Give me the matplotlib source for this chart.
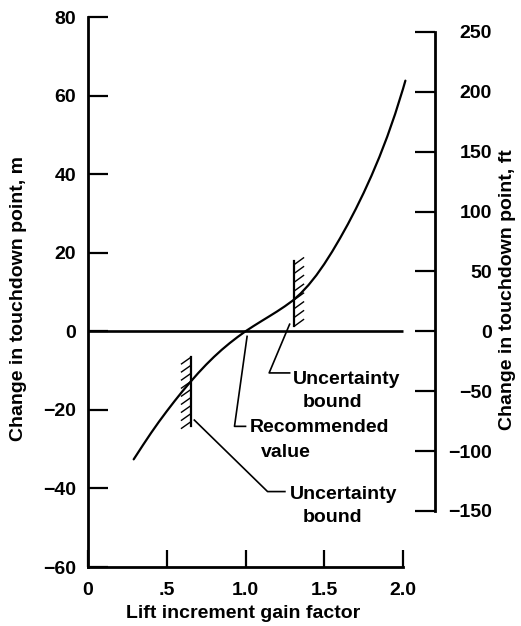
import numpy as np
import matplotlib
matplotlib.use("Agg")
import matplotlib.pyplot as plt
from matplotlib.collections import LineCollection

plt.rcParams['font.family'] = ['Liberation Sans', 'DejaVu Sans']
plt.rcParams['font.weight'] = 'bold'
plt.rcParams['font.size'] = 14

# ---- data ----
gain = [0.29, 0.35, 0.40, 0.45, 0.50, 0.55, 0.60, 0.65, 0.70, 0.75, 0.80, 0.85,
        0.90, 0.95, 1.00, 1.05, 1.10, 1.15, 1.20, 1.25, 1.30, 1.35, 1.40, 1.45,
        1.50, 1.55, 1.60, 1.65, 1.70, 1.75, 1.80, 1.85, 1.90, 1.95, 2.00, 2.015]
change_m = [-32.6, -28.9, -25.9, -23.05, -20.35, -17.75, -15.25, -12.9, -10.62, -8.49,
            -6.51, -4.68, -3.0, -1.45, 0.0, 1.31, 2.56, 3.79, 5.04, 6.37, 7.82, 9.62,
            11.77, 14.27, 17.12, 20.27, 23.67, 27.27, 31.12, 35.22, 39.62, 44.37,
            49.57, 55.32, 61.72, 63.8]

x_ticks = [0, 0.5, 1.0, 1.5, 2.0]
x_tick_labels = ["0", ".5", "1.0", "1.5", "2.0"]
m_ticks = [80, 60, 40, 20, 0, -20, -40, -60]
m_tick_labels = ["80", "60", "40", "20", "0", "\u221220", "\u221240", "\u221260"]
ft_ticks = [250, 200, 150, 100, 50, 0, -50, -100, -150]
ft_tick_labels = ["250", "200", "150", "100", "50", "0", "\u221250", "\u2212100", "\u2212150"]
M_TO_FT = 3.28084

# uncertainty bounds (x position, y range in m)
lower_bound_x = 0.654
lower_bound_y = (-24.0, -6.6)
upper_bound_x = 1.31
upper_bound_y = (1.3, 18.0)

# annotation leader lines
rec_leader_x = [1.01, 0.93, 1.00]
rec_leader_y = [-1.3, -24.2, -24.2]
ub_up_leader_x = [1.28, 1.15, 1.28]
ub_up_leader_y = [1.8, -10.6, -10.6]
ub_lo_leader_x = [0.675, 1.14, 1.25]
ub_lo_leader_y = [-22.6, -40.8, -40.8]

# ---- figure ----
W, H = 521, 626
fig = plt.figure(figsize=(W / 100, H / 100), dpi=100)
ax = fig.add_axes([88 / W, (H - 567) / H, (435 - 88) / W, 550 / H])
ax.set_xlim(0, 2.203)
ax.set_ylim(-60, 80)

lw_sp = 2.0
for s in ['top', 'right']:
    ax.spines[s].set_visible(False)
ax.spines['left'].set_linewidth(lw_sp)
ax.spines['bottom'].set_linewidth(lw_sp)
ax.spines['left'].set_bounds(-60, 80)
ax.spines['bottom'].set_bounds(0, 2.0)

ax.set_xticks(x_ticks)
ax.set_xticklabels(x_tick_labels)
ax.set_yticks(m_ticks)
ax.set_yticklabels(m_tick_labels)
ax.tick_params(axis='y', direction='in', length=14.5, width=1.6, pad=8.5, labelsize=14)
ax.tick_params(axis='x', direction='in', length=12, width=1.6, pad=11, labelsize=14)
for lab in ax.get_xticklabels() + ax.get_yticklabels():
    lab.set_fontweight('bold')

ax2 = ax.twinx()
ax2.set_ylim(-60 * M_TO_FT, 80 * M_TO_FT)
for s in ['top', 'left', 'bottom']:
    ax2.spines[s].set_visible(False)
ax2.spines['right'].set_linewidth(lw_sp)
ax2.spines['right'].set_bounds(-150, 250)
ax2.set_yticks(ft_ticks)
ax2.set_yticklabels(ft_tick_labels)
ax2.tick_params(axis='y', direction='in', length=14.5, width=1.6, pad=41, labelsize=14)
for lab in ax2.get_yticklabels():
    lab.set_fontweight('bold')
    lab.set_horizontalalignment('right')

# zero line
ax.hlines(0, 0, 2.0, color='black', lw=1.9)

# main curve
ax.plot(gain, change_m, color='black', lw=1.6, solid_capstyle='round', solid_joinstyle='round')

# hatched uncertainty bounds
def hatch(x, y0, y1, side, n):
    ys = np.linspace(y0, y1, n)
    segs = []
    for yy in ys:
        if side == 'left':
            segs.append([(x, yy), (x - 0.064, yy - 1.8)])
        else:
            segs.append([(x, yy), (x + 0.062, yy + 1.8)])
    ax.add_collection(LineCollection(segs, colors='black', linewidths=1.0))

hatch(lower_bound_x, lower_bound_y[0] + 1.0, lower_bound_y[1], 'left', 9)
ax.plot([lower_bound_x, lower_bound_x], list(lower_bound_y), color='black', lw=1.6)
hatch(upper_bound_x, upper_bound_y[0], upper_bound_y[1] - 1.0, 'right', 8)
ax.plot([upper_bound_x, upper_bound_x], list(upper_bound_y), color='black', lw=1.6)

# leaders
for lx, ly in [(rec_leader_x, rec_leader_y), (ub_up_leader_x, ub_up_leader_y),
               (ub_lo_leader_x, ub_lo_leader_y)]:
    ax.plot(lx, ly, color='black', lw=1.2)

tk = dict(fontsize=14, fontweight='bold', va='center', ha='left')
ax.text(1.30, -12.3, "Uncertainty", **tk)
ax.text(1.365, -18.2, "bound", **tk)
ax.text(1.03, -24.5, "Recommended", **tk)
ax.text(1.10, -30.8, "value", **tk)
ax.text(1.28, -41.5, "Uncertainty", **tk)
ax.text(1.36, -47.4, "bound", **tk)

fig.text(243 / W, 1 - 614 / H, "Lift increment gain factor", ha='center', va='center',
         fontsize=14, fontweight='bold')
fig.text(19 / W, 1 - 298 / H, "Change in touchdown point, m", ha='center', va='center',
         rotation=90, fontsize=14, fontweight='bold')
fig.text(507 / W, 1 - 290 / H, "Change in touchdown point, ft", ha='center', va='center',
         rotation=90, fontsize=14, fontweight='bold')

fig.savefig("out.png", dpi=100)
